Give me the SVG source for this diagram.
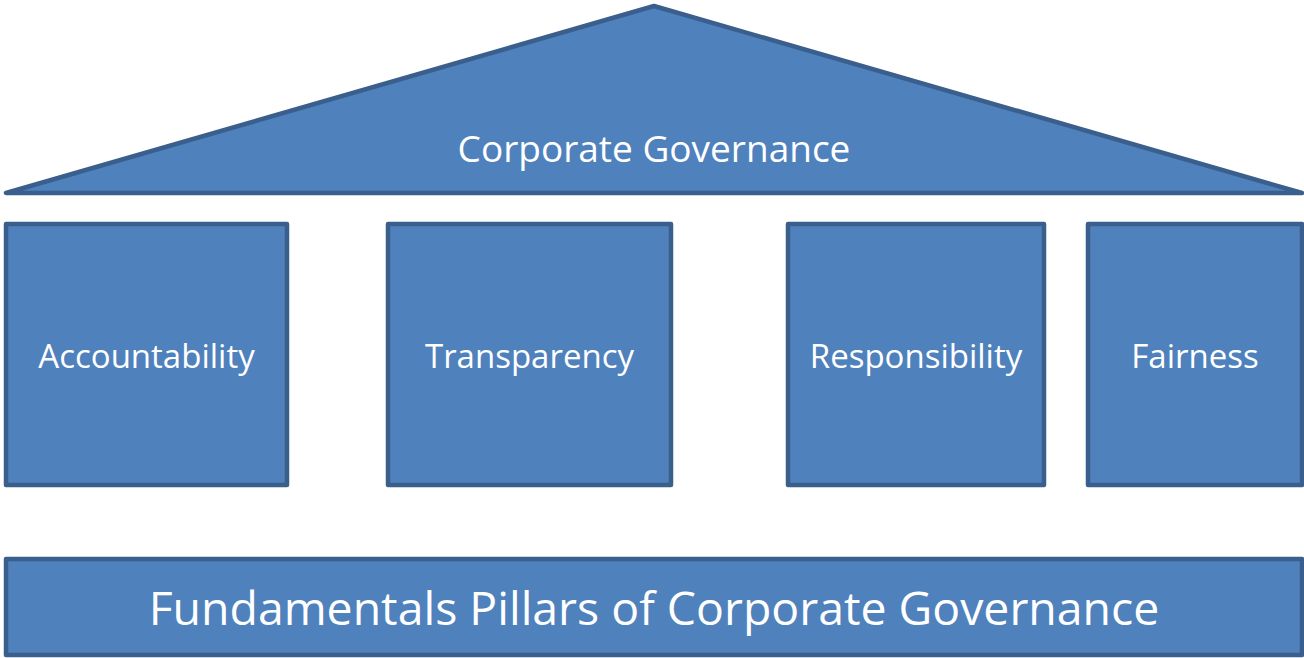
<svg xmlns="http://www.w3.org/2000/svg" width="1304" height="658" viewBox="0 0 1304 658">
  <style>
    .shape { fill: #4F81BD; stroke: #3A5F8D; stroke-width: 4.5; stroke-linejoin: round; }
    .label { fill: #FFFFFF; font-family: "Open Sans", "Liberation Sans", sans-serif; text-anchor: middle; dominant-baseline: central; }
    .pillar { font-size: 33px; }
    .roof { font-size: 37px; }
    .base { font-size: 46.4px; }
  </style>
  <rect width="1304" height="658" fill="#FFFFFF"/>

  <!-- roof -->
  <g id="roof">
    <polygon class="shape" points="654,6 6,193 1302,193"/>
    <text class="label roof" x="654" y="147">Corporate Governance</text>
  </g>

  <!-- pillars -->
  <g id="pillar-accountability">
    <rect class="shape" x="6" y="224" width="281" height="261"/>
    <text class="label pillar" x="146.5" y="355">Accountability</text>
  </g>
  <g id="pillar-transparency">
    <rect class="shape" x="388" y="224" width="283" height="261"/>
    <text class="label pillar" x="529.5" y="355">Transparency</text>
  </g>
  <g id="pillar-responsibility">
    <rect class="shape" x="788" y="224" width="256" height="261"/>
    <text class="label pillar" x="916" y="355">Responsibility</text>
  </g>
  <g id="pillar-fairness">
    <rect class="shape" x="1088" y="224" width="214" height="261"/>
    <text class="label pillar" x="1195" y="355">Fairness</text>
  </g>

  <!-- foundation -->
  <g id="foundation">
    <rect class="shape" x="6" y="559" width="1296" height="96"/>
    <text class="label base" x="654" y="607">Fundamentals Pillars of Corporate Governance</text>
  </g>

  <g id="connectors"></g>
</svg>
